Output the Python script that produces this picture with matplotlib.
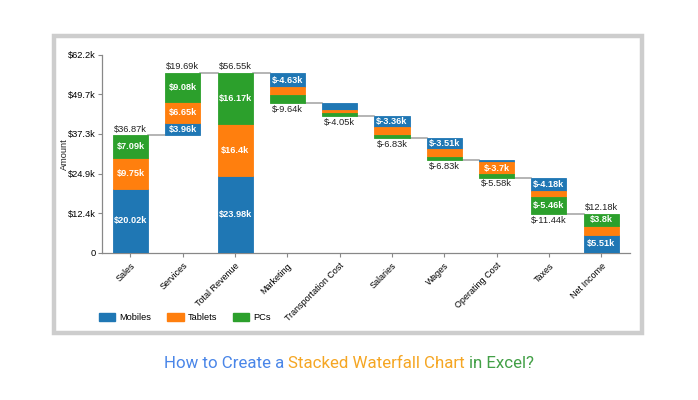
import matplotlib
matplotlib.use("Agg")
import matplotlib.pyplot as plt
from matplotlib.patches import Rectangle, Patch
import numpy as np

categories = ["Sales", "Services", "Total Revenue", "Marketing", "Transportation Cost",
              "Salaries", "Wages", "Operating Cost", "Taxes", "Net Income"]
is_total = [True, False, True, False, False, False, False, False, False, True]
mobiles = [20.02, 3.96, 23.98, -4.63, -2.10, -3.36, -3.51, -0.85, -4.18, 5.51]
tablets = [9.75, 6.65, 16.40, -2.35, -1.05, -2.45, -2.45, -3.70, -1.80, 2.87]
pcs = [7.09, 9.08, 16.17, -2.66, -0.90, -1.02, -0.87, -1.03, -5.46, 3.80]
bar_totals = [36.87, 19.69, 56.55, -9.64, -4.05, -6.83, -6.83, -5.58, -11.44, 12.18]
y_ticks = [0, 12.44, 24.88, 37.32, 49.76, 62.2]
y_ticklabels = ["0", "$12.4k", "$24.9k", "$37.3k", "$49.7k", "$62.2k"]

series = [("Mobiles", mobiles, "#1f77b4"),
          ("Tablets", tablets, "#ff7f0e"),
          ("PCs", pcs, "#2ca02c")]

plt.rcParams['font.family'] = ['Liberation Sans', 'DejaVu Sans']

W, H = 698, 400
fig = plt.figure(figsize=(W / 100, H / 100), dpi=100)

# gray frame around the chart
fig.patches.append(Rectangle((54.2 / W, 1 - 332.8 / H), (641.8 - 54.2) / W, (332.8 - 36.2) / H,
                             transform=fig.transFigure, fill=False,
                             edgecolor="#cdcdcd", linewidth=3.2))

ax = fig.add_axes([101.7 / W, 1 - 252.7 / H, (630 - 101.7) / W, 198 / H])

x = np.arange(len(categories))
bw = 0.67
ends = []
level = 0.0
for i in range(len(categories)):
    base = 0.0 if is_total[i] else level
    cur = base
    for name, vals, col in series:
        v = vals[i]
        ax.bar(x[i], v, bw, bottom=cur, color=col, edgecolor=col, linewidth=0.6, zorder=3)
        if abs(v) >= 3:
            ax.text(x[i], cur + v / 2, f"${v:g}k", ha="center", va="center",
                    color="white", fontsize=6.6, fontweight="bold", zorder=4)
        cur += v
    level = cur
    ends.append(cur)
    t = bar_totals[i]
    if t >= 0:
        ax.text(x[i], cur + 0.5, f"${t:g}k", ha="center", va="bottom", fontsize=6.7, color="#222222")
    else:
        ax.text(x[i], cur - 0.6, f"${t:g}k", ha="center", va="top", fontsize=6.7, color="#222222")

# connector lines
for i in range(len(categories) - 1):
    ax.plot([x[i] + bw / 2, x[i + 1] - bw / 2], [ends[i], ends[i]],
            color="#a0a0a0", linewidth=1.1, zorder=2)

ax.set_xlim(-0.55, 9.55)
ax.set_ylim(0, 62.2)
ax.set_yticks(y_ticks)
ax.set_yticklabels(y_ticklabels, fontsize=6.7)
ax.set_xticks(x)
ax.set_xticklabels(categories, fontsize=6.5, rotation=45, ha="right", rotation_mode="anchor")
ax.tick_params(axis="both", color="#888888", length=3, width=0.8, pad=1.5)
ax.tick_params(axis="x", pad=3)
ax.set_ylabel("Amount", fontsize=6.7, va="center", color="#222222")
ax.yaxis.set_label_coords((64 - 101.7) / 528.3, 0.5)
for s in ["top", "right"]:
    ax.spines[s].set_visible(False)
for s in ["left", "bottom"]:
    ax.spines[s].set_color("#888888")
    ax.spines[s].set_linewidth(0.9)

handles = [Patch(facecolor=c, edgecolor=c, label=n) for n, _, c in series]
fig.legend(handles=handles, loc="center left", bbox_to_anchor=(99 / W, 1 - 317.5 / H),
           ncol=3, frameon=False, fontsize=6.7, borderpad=0, borderaxespad=0,
           handlelength=1.75, handleheight=0.9, handletextpad=0.45, columnspacing=1.7)

# colored title below the chart
parts = [("How to Create a ", "#4a86e8"),
         ("Stacked Waterfall Chart ", "#f5a623"),
         ("in Excel?", "#43a047")]
fig.canvas.draw()
r = fig.canvas.get_renderer()
texts = []
for s, c in parts:
    texts.append(fig.text(0, 1 - 368 / H, s, color=c, fontsize=12.2,
                          family=["Roboto", "DejaVu Sans"], va="baseline"))
widths = [t.get_window_extent(r).width for t in texts]
start = 349 - sum(widths) / 2
for t, w in zip(texts, widths):
    t.set_x(start / W)
    start += w

fig.savefig("out.png", dpi=100)
